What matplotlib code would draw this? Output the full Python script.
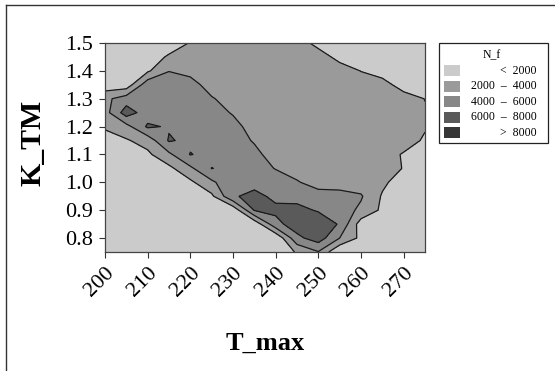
import numpy as np
import matplotlib
matplotlib.use("Agg")
import matplotlib.pyplot as plt
from matplotlib.patches import Rectangle
from matplotlib.lines import Line2D

plt.rcParams['font.family'] = ['Liberation Serif', 'DejaVu Serif']

# ---- data ----
T_max = [200, 205, 210, 215, 220, 225, 230, 235, 240, 245, 250, 255, 260, 265, 270, 275]
K_TM = [0.75, 0.80, 0.85, 0.90, 0.95, 1.00, 1.05, 1.10, 1.15, 1.20, 1.25, 1.30, 1.35, 1.40, 1.45, 1.50]

# N_f grid, rows follow K_TM (0.75 -> 1.50), columns follow T_max
N_f = [
    [1000, 1000, 1000, 1000, 1000, 1000, 1000, 1000,  500, 2200, 3900,    0, 1000, 1000, 1000, 1000],  # 0.75
    [1000, 1000, 1000, 1000, 1000, 1000, 1000, 1000,  200, 5500, 7000, 4000, 1500, 1000, 1000, 1000],  # 0.80
    [1000, 1000, 1000, 1000, 1000, 1000, 1000,  500, 5400, 7000, 7400, 5800, 1000, 1000, 1000, 1000],  # 0.85
    [1000, 1000, 1000, 1000, 1000, 1000,  500, 6100, 6400, 6600, 5800, 5000, 3600, 1600, 1000, 1000],  # 0.90
    [1000, 1000, 1000, 1000, 1000, 1600, 5800, 6500, 5600, 5300, 5000, 4800, 4200, 1800, 1000, 1000],  # 0.95
    [1000, 1000, 1000, 1000, 1600, 3600, 5600, 5400, 5200, 4200, 3000, 3000, 3000, 2400, 1000, 1000],  # 1.00
    [1000, 1000, 1000, 1500, 3600, 6050, 5400, 5000, 3900, 3000, 3000, 3000, 3000, 3000, 1900, 1000],  # 1.05
    [1000, 1000, 1600, 3600, 6100, 5300, 5000, 4600, 3000, 3000, 3000, 3000, 3000, 3000, 1800, 1000],  # 1.10
    [1000, 1800, 2800, 6200, 5500, 5300, 5000, 3800, 3000, 3000, 3000, 3000, 3000, 3000, 3000, 1700],  # 1.15
    [2300, 3300, 6300, 5800, 5300, 5200, 4800, 3000, 3000, 3000, 3000, 3000, 3000, 3000, 3000, 2200],  # 1.20
    [3200, 7000, 5000, 5500, 5300, 5000, 3800, 3000, 3000, 3000, 3000, 3000, 3000, 3000, 3000, 2200],  # 1.25
    [3500, 5000, 5300, 5200, 5000, 4200, 3000, 3000, 3000, 3000, 3000, 3000, 3000, 3000, 3000, 1950],  # 1.30
    [ 800,  800, 5300, 5000, 4900, 3000, 3000, 3000, 3000, 3000, 3000, 3000, 3000, 2900, 1000, 1000],  # 1.35
    [1000, 1000, 1700, 3950, 3300, 3000, 3000, 3000, 3000, 3000, 3000, 3000, 1950, 1000, 1000, 1000],  # 1.40
    [1000, 1000, 1000, 2250, 3000, 3000, 3000, 3000, 3000, 3000, 3000, 1330, 1000, 1000, 1000, 1000],  # 1.45
    [1000, 1000, 1000, 1000, 2100, 3000, 3000, 3000, 3000, 3000, 1330, 1000, 1000, 1000, 1000, 1000],  # 1.50
]

levels = [-1000, 2000, 4000, 6000, 8000, 12000]
legend_labels = ['<  2000', '2000  \u2013  4000', '4000  \u2013  6000', '6000  \u2013  8000', '>  8000']
fill_colors = ['#cbcbcb', '#9a9a9a', '#878787', '#5a5a5a', '#363636']

x_ticks = [200, 210, 220, 230, 240, 250, 260, 270]
y_ticks = [0.8, 0.9, 1.0, 1.1, 1.2, 1.3, 1.4, 1.5]

# ---- figure ----
W, H = 555, 371
fig = plt.figure(figsize=(W / 100, H / 100), dpi=100)
ax = fig.add_axes([105 / W, 1 - 252 / H, 320 / W, 209 / H])

Z = np.array(N_f, dtype=float)
ax.contourf(T_max, K_TM, Z, levels=levels, colors=fill_colors)
ax.contour(T_max, K_TM, Z, levels=[2000, 4000, 6000], colors='#1a1a1a', linewidths=0.9)

ax.set_xlim(200, 275)
ax.set_ylim(0.75, 1.5)
ax.set_xticks(x_ticks)
ax.set_yticks(y_ticks)
ax.set_xticklabels([str(v) for v in x_ticks], rotation=45, ha='right', va='top',
                   rotation_mode='anchor', fontsize=16)
ax.set_yticklabels([f"{v:.1f}" for v in y_ticks], fontsize=16)
ax.tick_params(axis='both', direction='out', length=4, width=0.8, color='#333333')
ax.tick_params(axis='y', pad=5)
ax.tick_params(axis='x', pad=4)
for s in ax.spines.values():
    s.set_linewidth(0.9)
    s.set_color('#444444')

ax.set_xlabel('T_max', fontsize=19, fontweight='bold')
ax.set_ylabel('K_TM', fontsize=21.5, fontweight='bold')
ax.xaxis.set_label_coords(0.5, (252 - 343) / 209)
ax.xaxis.label.set_va('center')
ax.yaxis.set_label_coords((33 - 105) / 320, 0.5 + (147.5 - 143) / 209)
ax.yaxis.label.set_va('center')

# ---- legend box (drawn in figure pixels) ----
def fx(px):
    return px / W

def fy(py):
    return 1 - py / H

fig.add_artist(Rectangle((fx(439), fy(143)), 109 / W, 100 / H, transform=fig.transFigure,
                         facecolor='white', edgecolor='#222222', linewidth=0.9))
fig.text(fx(492), fy(55), 'N_f', ha='center', va='center', fontsize=8.5)
for i, (lab, col) in enumerate(zip(legend_labels, fill_colors)):
    yc = 70.7 + 15.5 * i
    fig.add_artist(Rectangle((fx(444), fy(yc + 5.5)), 16 / W, 11 / H, transform=fig.transFigure,
                             facecolor=col, edgecolor='none'))
    fig.text(fx(537), fy(yc), lab, ha='right', va='center', fontsize=8.5)

# ---- outer frame lines (top and left) ----
fig.add_artist(Line2D([fx(6), 1.0], [fy(5), fy(5)], transform=fig.transFigure,
                      color='#333333', linewidth=1.0))
fig.add_artist(Line2D([fx(6), fx(6)], [fy(5), 0.0], transform=fig.transFigure,
                      color='#333333', linewidth=1.0))

fig.savefig('out.png', dpi=100)
